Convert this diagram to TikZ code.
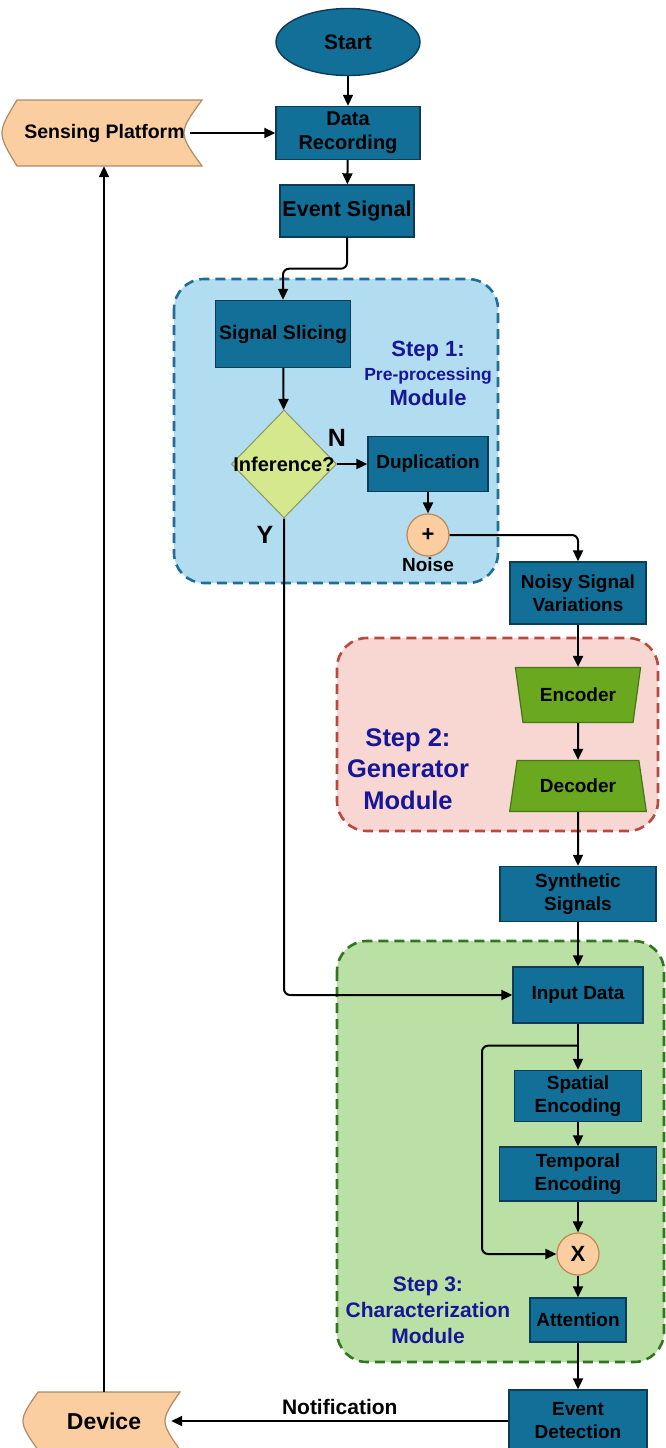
\documentclass[tikz,border=0pt]{standalone}
\usepackage{fontspec}
\setmainfont{Liberation Sans}
\usetikzlibrary{shapes.geometric,arrows.meta,calc}

\definecolor{boxfill}{RGB}{17,111,152}
\definecolor{boxline}{RGB}{14,60,88}
\definecolor{peach}{RGB}{250,206,160}
\definecolor{peachline}{RGB}{176,138,100}
\definecolor{decfill}{RGB}{214,232,141}
\definecolor{decline}{RGB}{140,150,100}
\definecolor{trapfill}{RGB}{106,168,32}
\definecolor{trapline}{RGB}{70,118,22}
\definecolor{onefill}{RGB}{178,220,240}
\definecolor{oneline}{RGB}{30,110,150}
\definecolor{twofill}{RGB}{248,215,211}
\definecolor{twoline}{RGB}{185,72,62}
\definecolor{threefill}{RGB}{186,224,166}
\definecolor{threeline}{RGB}{48,118,28}
\definecolor{titleblue}{RGB}{22,22,150}

\tikzset{
  boxtext/.style={font=\fontsize{19}{23}\selectfont\bfseries, align=center},
  proc/.style={boxtext, draw=boxline, fill=boxfill, line width=1.4pt, inner sep=0},
  store/.style={draw=peachline, fill=peach, line width=1.2pt},
  codec/.style={boxtext, trapezium, trapezium stretches=true, draw=trapline,
    fill=trapfill, line width=1.2pt, inner sep=0},
  sumnode/.style={font=\fontsize{22}{24}\selectfont\bfseries, circle, minimum size=42,
    inner sep=0, draw=peachline!80!orange, fill=peach, line width=1.2pt},
  module/.style={line width=2.6pt, dash pattern=on 10pt off 6pt, rounded corners=30},
  steptext/.style={text=titleblue, align=center, font=\bfseries},
  arr/.style={line width=2pt, -{Triangle[length=11pt,width=10pt]}, rounded corners=6},
}

\begin{document}
\begin{tikzpicture}[x=1pt, y=-1pt]
  \useasboundingbox (0,0) rectangle (666,1448);

  % 三个模块的背景
  \draw[module, draw=oneline, fill=onefill] (174,279) rectangle (498,583);
  \draw[module, draw=twoline, fill=twofill] (337,638) rectangle (658,831);
  \draw[module, draw=threeline, fill=threefill] (337,941) rectangle (664,1362);

  % 存储形状 (先画轮廓, 再放文字)
  \coordinate (spc) at (104.5,133);
  \coordinate (devc) at (104,1421);
  \draw[store] (17,100) -- (202,100) .. controls (178,133) .. (202,166)
    -- (17,166) .. controls (-3,133) .. cycle;
  \draw[store] (38,1392) -- (180,1392) .. controls (160,1421) .. (180,1450)
    -- (38,1450) .. controls (18,1421) .. cycle;
  \node[boxtext, font=\fontsize{19.5}{23}\selectfont\bfseries, minimum width=195,
    minimum height=66] (sp) at (spc) {Sensing Platform};
  \node[boxtext, font=\fontsize{23}{26}\selectfont\bfseries, minimum width=152,
    minimum height=58] (dev) at (devc) {Device};

  % 上部主流程
  \node[proc, ellipse, font=\fontsize{21}{23}\selectfont\bfseries, minimum width=144,
    minimum height=67] (start) at (348,42) {Start};
  \node[proc, font=\fontsize{20}{24}\selectfont\bfseries, minimum width=144,
    minimum height=53] (rec) at (348,133) {Data\\Recording};
  \node[proc, font=\fontsize{21.5}{23}\selectfont\bfseries, minimum width=134,
    minimum height=52] (evsig) at (347,211) {Event Signal};

  % 第一步: 预处理
  \node[proc, font=\fontsize{19.5}{23}\selectfont\bfseries, minimum width=135,
    minimum height=67] (slice) at (283,334) {Signal Slicing};
  \node[diamond, draw=decline, fill=decfill, line width=1pt, minimum width=105,
    minimum height=108, inner sep=0,
    label={[boxtext, font=\fontsize{20}{23}\selectfont\bfseries]center:Inference?}] (inf) at (284,464) {};
  \node[proc, minimum width=120, minimum height=55] (dup) at (428,464) {Duplication};
  \node[sumnode] (plus) at (428,535) {+};
  \node[boxtext] (noise) at (428,565) {Noise};
  \node[font=\fontsize{25}{25}\selectfont\bfseries] (nlab) at (337,438) {N};
  \node[font=\fontsize{25}{25}\selectfont\bfseries] (ylab) at (265,535) {Y};
  \node[steptext, font=\fontsize{22}{24.5}\selectfont\bfseries] (s1) at (428,373)
    {Step 1:\\{\fontsize{17.5}{20}\selectfont Pre-processing}\\Module};

  % 第二步: 生成器
  \node[proc, minimum width=136, minimum height=62] (noisy) at (578,593) {Noisy Signal\\Variations};
  \node[codec, shape border rotate=180, trapezium angle=69.5, minimum width=126,
    minimum height=55] (enc) at (578,695) {Encoder};
  \node[codec, trapezium angle=71.5, minimum width=137, minimum height=51] (dec) at (578,786) {Decoder};
  \node[steptext, font=\fontsize{25.5}{31.5}\selectfont\bfseries] (s2) at (408,769)
    {Step 2:\\Generator\\Module};
  \node[proc, minimum width=156, minimum height=55] (synth) at (578,894) {Synthetic\\Signals};

  % 第三步: 特征提取
  \node[proc, minimum width=130, minimum height=56] (input) at (578,995) {Input Data};
  \node[proc, minimum width=127, minimum height=51] (spatial) at (578,1096) {Spatial\\Encoding};
  \node[proc, minimum width=157, minimum height=54] (temporal) at (578,1174) {Temporal\\Encoding};
  \node[sumnode] (mul) at (578,1254) {X};
  \node[proc, minimum width=96, minimum height=44] (att) at (578,1320) {Attention};
  \node[steptext, font=\fontsize{21}{26}\selectfont\bfseries] (s3) at (428,1310)
    {Step 3:\\Characterization\\Module};

  % 底部
  \node[proc, minimum width=138, minimum height=62] (evdet) at (578,1421) {Event\\Detection};

  % 连线
  \draw[arr] (start) -- (rec);
  \draw[arr] ([xshift=-12]sp.east) -- (rec.west);
  \draw[arr] (rec) -- (evsig);
  \draw[arr] (evsig.south) -- ++(0,31) -| (slice.north);
  \draw[arr] (slice) -- (inf);
  \draw[arr] (inf.east) -- (dup.west);
  \draw[arr] (dup) -- (plus);
  \draw[arr] (plus.east) -| (noisy.north);
  \draw[arr] (noisy) -- (enc);
  \draw[arr] (enc) -- (dec);
  \draw[arr] (dec) -- (synth);
  \draw[arr] (synth) -- (input);
  \draw[arr] (inf.south) |- (input.west);
  \draw[arr] (input) -- (spatial);
  \coordinate (split) at ($(input.south)+(0,22)$);
  \coordinate (bend) at ($(split)+(-96,0)$);
  \draw[arr] (split) -- (bend) |- (mul.west);
  \draw[arr] (spatial) -- (temporal);
  \draw[arr] (temporal) -- (mul);
  \draw[arr] (mul) -- (att);
  \draw[arr] (att) -- (evdet);
  \draw[arr] (evdet.west) -- node[above=2pt, boxtext, font=\fontsize{21}{23}\selectfont\bfseries]
    (notif) {Notification} ([xshift=-9]dev.east);
  \draw[arr] (dev.north) -- (dev.north |- sp.south);
\end{tikzpicture}
\end{document}
